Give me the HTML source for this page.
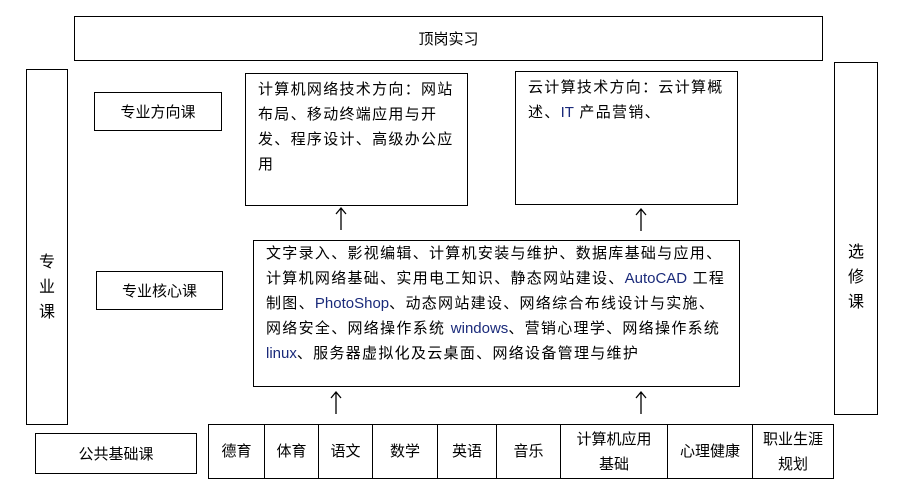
<!DOCTYPE html>
<html><head><meta charset="utf-8"><style>
body{margin:0;width:905px;height:491px;background:#fff;position:relative;overflow:hidden;font-family:"Liberation Sans","Noto Sans CJK SC",sans-serif;font-size:15px;color:#000}
.b{position:absolute;border:1.3px solid #000;box-sizing:border-box}
.c{display:flex;align-items:center;justify-content:center;text-align:center}
.t{padding:3px 0 0 12px;line-height:25px;white-space:nowrap;letter-spacing:1.3px}
.e{color:#1a2a7a;letter-spacing:0}
.v{position:absolute;font-size:16px;width:30px;text-align:center;line-height:25px}
.cell{position:absolute;top:424px;height:55px;border:1.3px solid #000;box-sizing:border-box;display:flex;align-items:center;justify-content:center;text-align:center;line-height:25px;font-size:15px}
</style></head><body>
<div class="b c" style="left:74px;top:16px;width:749px;height:45px">顶岗实习</div>
<div class="b" style="left:26px;top:69px;width:42px;height:356px"></div>
<div class="v" style="left:32px;top:250px">专<br>业<br>课</div>
<div class="b" style="left:834px;top:62px;width:44px;height:353px"></div>
<div class="v" style="left:841px;top:240px">选<br>修<br>课</div>
<div class="b c" style="left:94px;top:92px;width:128px;height:39px">专业方向课</div>
<div class="b c" style="left:96px;top:271px;width:127px;height:39px">专业核心课</div>
<div class="b t" style="left:245px;top:73px;width:223px;height:133px">计算机网络技术方向：网站<br>布局、移动终端应用与开<br>发、程序设计、高级办公应<br>用</div>
<div class="b t" style="left:515px;top:71px;width:223px;height:134px">云计算技术方向：云计算概<br>述、<span class="e">IT</span> 产品营销、</div>
<div class="b t" style="left:253px;top:240px;width:487px;height:147px;padding-top:0">文字录入、影视编辑、计算机安装与维护、数据库基础与应用、<br>计算机网络基础、实用电工知识、静态网站建设、<span class="e">AutoCAD</span> 工程<br>制图、<span class="e">PhotoShop</span>、动态网站建设、网络综合布线设计与实施、<br>网络安全、网络操作系统 <span class="e">windows</span>、营销心理学、网络操作系统<br><span class="e">linux</span>、服务器虚拟化及云桌面、网络设备管理与维护</div>
<svg style="position:absolute;left:0;top:0" width="905" height="491">
<g stroke="#000" stroke-width="1.3" fill="none">
<path d="M341 230V208M336 214L341 208L346 214"/>
<path d="M641 231V209M636 215L641 209L646 215"/>
<path d="M336 414V392M331 398L336 392L341 398"/>
<path d="M641 414V392M636 398L641 392L646 398"/>
</g></svg>
<div class="b c" style="left:35px;top:433px;width:162px;height:41px">公共基础课</div>
<div class="cell" style="left:208px;width:57px">德育</div>
<div class="cell" style="left:264px;width:55px">体育</div>
<div class="cell" style="left:318px;width:55px">语文</div>
<div class="cell" style="left:372px;width:66px">数学</div>
<div class="cell" style="left:437px;width:60px">英语</div>
<div class="cell" style="left:496px;width:65px">音乐</div>
<div class="cell" style="left:560px;width:108px">计算机应用<br>基础</div>
<div class="cell" style="left:667px;width:86px">心理健康</div>
<div class="cell" style="left:752px;width:82px">职业生涯<br>规划</div>
</body></html>
